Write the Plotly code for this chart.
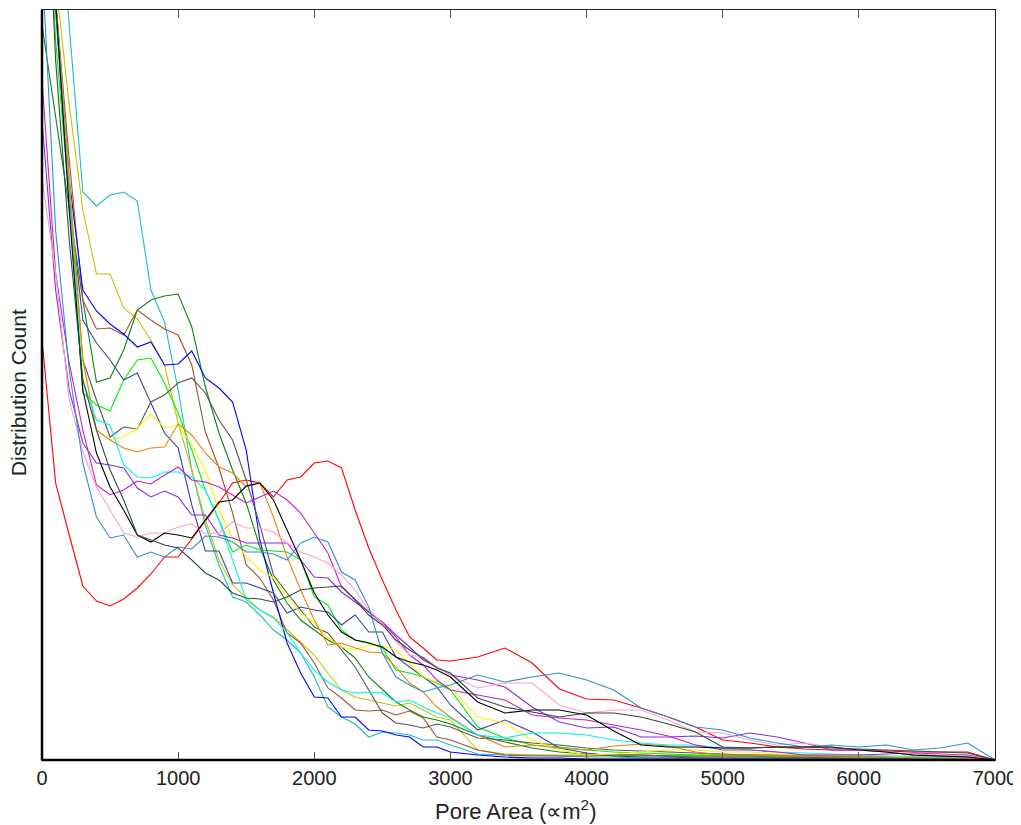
import plotly.graph_objects as go

# Pore area grid (µm^2)
X = [0, 100, 200, 300, 400, 500, 600, 700, 800, 900, 1000, 1100, 1200, 1300, 1400,
     1500, 1600, 1700, 1800, 1900, 2000, 2100, 2200, 2300, 2400, 2500, 2600, 2700,
     2800, 2900, 3000, 3200, 3400, 3600, 3800, 4000, 4200, 4400, 4600, 4800, 5000,
     5200, 5400, 5600, 5800, 6000, 6200, 6400, 6600, 6800, 7000]

red = [420, 277, 225, 174, 159, 154, 161, 172, 186, 203, 203, 221, 238, 257, 277, 280, 277, 263, 280, 283, 297, 299, 292, 250, 212, 180, 150, 123, 112, 100, 99,
       103, 112, 97, 71, 61, 60, 52, 43, 33, 20, 17, 13, 11, 10, 10, 9, 8, 8, 8, 0]
teal = [1300, 930, 734, 568, 554, 565, 568, 559, 470, 438, 370, 290, 235, 195, 163, 158, 145, 130, 120, 107, 83, 53, 43, 36, 23, 28, 27, 25, 20, 20, 15,
        6, 5, 5, 4, 3, 3, 2, 2, 2, 1, 1, 1, 1, 1, 1, 1, 1, 1, 1, 0]
olive = [1100, 780, 655, 550, 486, 486, 452, 441, 420, 395, 337, 290, 240, 200, 175, 163, 150, 143, 130, 118, 105, 87, 70, 63, 60, 57, 54, 57, 50, 43, 40,
         10, 6, 5, 5, 5, 4, 4, 5, 5, 5, 5, 4, 4, 3, 3, 3, 3, 3, 2, 0]
dkgreen = [735, 645, 553, 460, 378, 382, 410, 450, 460, 464, 466, 433, 373, 327, 290, 257, 213, 180, 157, 140, 130, 120, 113, 102, 83, 70, 58, 50, 43, 40, 36,
           25, 18, 12, 8, 6, 5, 5, 4, 4, 4, 4, 3, 3, 3, 3, 2, 2, 2, 2, 0]
brown = [1050, 760, 600, 460, 431, 432, 425, 450, 440, 431, 425, 395, 328, 292, 247, 195, 182, 160, 127, 117, 97, 72, 62, 50, 49, 50, 45, 49, 42, 23, 20,
         10, 5, 4, 4, 4, 5, 5, 4, 3, 3, 3, 3, 3, 2, 2, 2, 2, 2, 2, 0]
blue = [1150, 760, 580, 470, 449, 436, 426, 413, 418, 395, 396, 409, 382, 372, 358, 310, 220, 167, 117, 87, 63, 62, 43, 43, 30, 29, 25, 23, 13, 13, 8,
        5, 3, 2, 2, 1, 1, 1, 1, 1, 1, 1, 1, 1, 1, 1, 1, 1, 1, 1, 0]
lime = [1000, 720, 560, 367, 355, 349, 380, 400, 402, 377, 347, 310, 270, 240, 208, 215, 210, 209, 208, 200, 163, 155, 130, 120, 117, 112, 90, 87, 83, 77, 70,
        33, 22, 15, 13, 10, 8, 7, 6, 5, 5, 4, 4, 4, 3, 3, 3, 3, 2, 2, 0]
navy = [1050, 750, 560, 440, 417, 400, 380, 387, 357, 327, 312, 255, 209, 209, 177, 177, 172, 167, 147, 153, 150, 148, 135, 145, 128, 128, 103, 93, 83, 73, 55,
        30, 40, 28, 12, 7, 4, 3, 3, 2, 2, 2, 2, 2, 2, 1, 1, 1, 1, 1, 0]
gray = [1050, 760, 570, 400, 360, 323, 333, 331, 358, 365, 377, 382, 367, 340, 320, 280, 235, 185, 167, 150, 133, 127, 110, 93, 70, 47, 37, 35, 32, 36, 33,
        22, 20, 17, 15, 12, 10, 9, 8, 7, 6, 5, 5, 5, 4, 4, 3, 3, 3, 2, 0]
yellow = [1050, 760, 580, 400, 330, 320, 323, 332, 346, 332, 335, 315, 290, 250, 222, 203, 190, 182, 163, 147, 137, 122, 113, 110, 115, 114, 110, 97, 83, 78, 73,
          43, 37, 20, 10, 5, 6, 8, 10, 10, 8, 8, 6, 5, 5, 4, 4, 3, 3, 2, 0]
orange = [1050, 760, 580, 400, 330, 320, 312, 308, 312, 313, 336, 325, 307, 293, 287, 273, 277, 243, 203, 170, 140, 115, 117, 112, 108, 107, 93, 77, 68, 53, 43,
          25, 13, 15, 12, 10, 14, 16, 14, 8, 5, 5, 4, 4, 3, 3, 3, 2, 2, 2, 0]
cyan = [1050, 760, 560, 380, 340, 335, 295, 283, 282, 288, 288, 283, 270, 240, 200, 160, 150, 142, 127, 107, 90, 78, 70, 67, 68, 67, 58, 60, 53, 47, 42,
        25, 22, 27, 27, 25, 20, 17, 15, 15, 12, 10, 8, 7, 6, 5, 4, 4, 3, 3, 0]
magenta = [680, 487, 397, 330, 275, 265, 270, 279, 276, 285, 293, 280, 278, 273, 265, 257, 263, 269, 260, 247, 227, 207, 173, 160, 148, 137, 123, 105, 95, 80, 70,
           65, 60, 45, 42, 40, 35, 30, 24, 15, 10, 10, 8, 5, 5, 5, 6, 7, 6, 5, 0]
violet = [640, 470, 370, 317, 297, 295, 292, 272, 263, 269, 263, 245, 245, 225, 222, 217, 217, 217, 217, 200, 183, 182, 168, 158, 148, 138, 125, 113, 100, 93, 85,
          80, 73, 53, 38, 32, 33, 23, 23, 24, 22, 27, 23, 17, 10, 10, 8, 5, 4, 4, 0]
pink = [582, 487, 360, 308, 273, 250, 227, 223, 227, 227, 233, 236, 226, 227, 238, 232, 232, 228, 217, 208, 203, 197, 185, 170, 150, 137, 118, 105, 103, 93, 85,
        72, 77, 77, 55, 47, 50, 50, 40, 28, 27, 20, 15, 17, 13, 10, 8, 6, 5, 4, 0]
steel = [800, 530, 390, 297, 243, 222, 225, 203, 208, 203, 213, 211, 224, 223, 218, 208, 208, 206, 200, 217, 223, 218, 188, 180, 153, 107, 83, 75, 68, 72, 75,
         85, 78, 83, 87, 80, 70, 52, 43, 33, 30, 22, 17, 13, 15, 13, 15, 10, 12, 17, 0]
black = [1050, 760, 550, 370, 307, 273, 250, 225, 218, 227, 225, 222, 240, 258, 260, 274, 277, 260, 230, 200, 167, 145, 128, 120, 117, 113, 103, 98, 95, 90, 83,
         58, 47, 50, 50, 45, 29, 15, 13, 13, 12, 12, 13, 13, 13, 10, 8, 5, 4, 3, 0]
dkslate = [1000, 700, 520, 380, 330, 290, 260, 225, 220, 215, 212, 200, 187, 180, 167, 162, 161, 158, 163, 170, 172, 173, 174, 160, 145, 135, 120, 110, 102, 92, 87,
           62, 53, 48, 43, 47, 47, 43, 36, 28, 13, 12, 13, 13, 12, 11, 10, 9, 8, 7, 0]

tick_vals = [0, 1000, 2000, 3000, 4000, 5000, 6000, 7000]
x_title = "Pore Area (∝m<sup>2</sup>)"
y_title = "Distribution Count"

series = [
    ("red", red, "#FF0000"),
    ("teal", teal, "#1CBCC4"),
    ("olive", olive, "#C4C400"),
    ("dkgreen", dkgreen, "#0A840A"),
    ("brown", brown, "#A0522D"),
    ("blue", blue, "#0000FF"),
    ("lime", lime, "#00F000"),
    ("navy", navy, "#32469E"),
    ("gray", gray, "#555555"),
    ("yellow", yellow, "#FFF000"),
    ("orange", orange, "#E8820C"),
    ("cyan", cyan, "#00F4F4"),
    ("magenta", magenta, "#C020C8"),
    ("violet", violet, "#8A2BE2"),
    ("pink", pink, "#FFA0C4"),
    ("steel", steel, "#2E90D0"),
    ("black", black, "#000000"),
    ("dkslate", dkslate, "#2F4F3F"),
]

fig = go.Figure()
for name, ys, col in series:
    fig.add_trace(go.Scatter(x=X, y=ys, mode="lines", name=name,
                             line=dict(color=col, width=1.1), showlegend=False))

FONT = "Liberation Sans, Arial, Helvetica, sans-serif"

# page body has an 8px default margin, so the figure is sized/offset for it
fig.update_layout(
    width=1013, height=817,
    margin=dict(l=34, r=26, t=2, b=65),
    paper_bgcolor="white", plot_bgcolor="white",
    font=dict(family=FONT, size=20, color="#222222"),
    xaxis=dict(range=[0, 7000], tickvals=tick_vals, automargin=False,
               ticks="inside", ticklen=8, tickwidth=1, tickcolor="#555555",
               showline=True, linecolor="#222222", linewidth=1, mirror="ticks",
               showgrid=False, zeroline=False,
               tickfont=dict(size=20, color="#222222")),
    yaxis=dict(range=[0, 750], showticklabels=False, ticks="", automargin=False,
               showline=True, linecolor="#222222", linewidth=1, mirror=True,
               showgrid=False, zeroline=False),
    annotations=[
        dict(text=x_title, xref="paper", yref="paper", x=0.4975, y=-0.066,
             xanchor="center", yanchor="middle", showarrow=False,
             font=dict(size=22, color="#222222", family=FONT)),
        dict(text=y_title, xref="paper", yref="paper", x=-0.0245, y=0.49,
             xanchor="center", yanchor="middle", showarrow=False, textangle=-90,
             font=dict(size=21, color="#222222", family=FONT)),
    ],
    shapes=[
        dict(type="line", xref="paper", yref="paper", x0=0, x1=0, y0=0, y1=1,
             line=dict(color="black", width=2.5)),
        dict(type="line", xref="paper", yref="paper", x0=0, x1=1, y0=0, y1=0,
             line=dict(color="black", width=2.5)),
    ],
)

fig.write_html("out.html")
